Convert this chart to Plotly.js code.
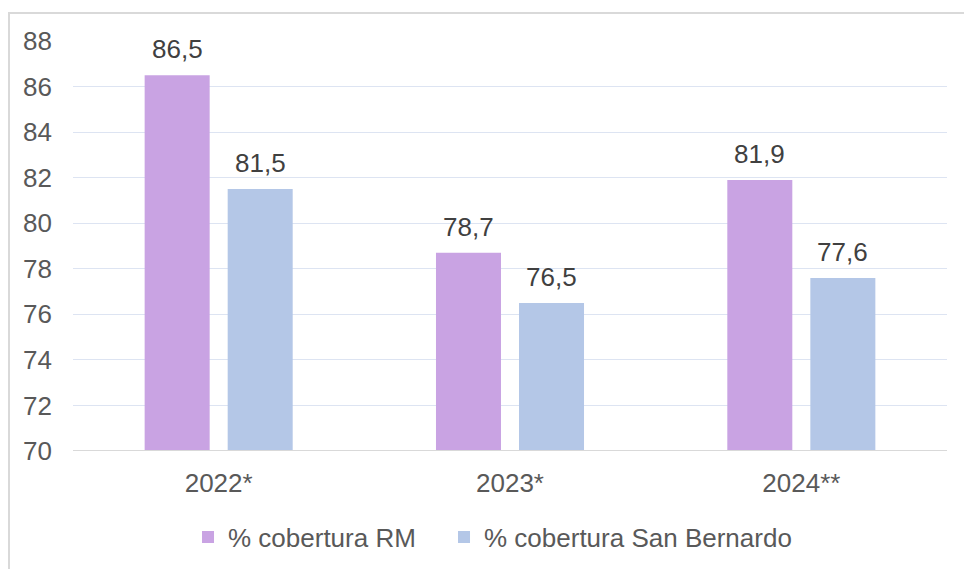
<!DOCTYPE html>
<html><head><meta charset="utf-8">
<script src="https://cdn.plot.ly/plotly-3.0.1.min.js"></script>
<style>html,body{margin:0;padding:0;background:#fff;overflow:hidden}#frame{position:absolute;left:8px;top:12px;width:1000px;height:600px;border-left:2px solid #D9D9D9;border-top:2px solid #D9D9D9;pointer-events:none}</style>
</head><body>
<div id="chart" style="width:964px;height:569px"></div>
<div id="frame"></div>
<script>
const categories = ["2022*", "2023*", "2024**"];
const seriesRM = [86.5, 78.7, 81.9];
const seriesSB = [81.5, 76.5, 77.6];
const nameRM = "% cobertura RM";
const nameSB = "% cobertura San Bernardo";
const yTicks = [70, 72, 74, 76, 78, 80, 82, 84, 86, 88];

const font = {family: "Liberation Sans, Arial, sans-serif", size: 26, color: "#595959"};
const labelFont = {family: font.family, size: 26, color: "#404040"};
const traces = [
  {type: "bar", name: nameRM, x: categories, y: seriesRM, marker: {color: "#C9A3E3"}, hoverinfo: "skip", legend: "legend"},
  {type: "bar", name: nameSB, x: categories, y: seriesSB, marker: {color: "#B4C7E7"}, hoverinfo: "skip", legend: "legend2"}
];
const fmt = v => v.toFixed(1).replace(".", ",");
const annotations = [];
[[seriesRM, -41.5], [seriesSB, 41.5]].forEach(([vals, dx]) => {
  vals.forEach((v, i) => annotations.push({
    x: categories[i], y: v, xref: "x", yref: "y", text: fmt(v), showarrow: false,
    xshift: dx, yshift: 26, yanchor: "middle", font: labelFont
  }));
});
const legendBase = {orientation: "h", xanchor: "left", y: -0.21, yanchor: "middle",
                    font: font, itemwidth: 30, bgcolor: "rgba(0,0,0,0)"};
const layout = {
  width: 964, height: 569,
  margin: {l: 73, r: 17, t: 41, b: 118, autoexpand: false},
  separators: ",.",
  font: font,
  paper_bgcolor: "#fff", plot_bgcolor: "#fff",
  barmode: "group", bargap: 0.43, bargroupgap: 0.217,
  showlegend: true,
  legend: Object.assign({}, legendBase, {x: 0.1316}),
  legend2: Object.assign({}, legendBase, {x: 0.4245}),
  xaxis: {type: "category", showgrid: false, ticks: "", showline: false, zeroline: false,
          tickfont: font, ticklabelstandoff: 14},
  yaxis: {range: [70, 88], tickvals: yTicks, ticktext: yTicks.map(String), showgrid: true,
          gridcolor: "#DDE4F2", gridwidth: 1, zeroline: false, showline: false, ticks: "",
          tickfont: font, ticklabelstandoff: 20, fixedrange: true},
  annotations: annotations,
  shapes: [{type: "line", xref: "paper", yref: "y", x0: 0, x1: 1, y0: 70, y1: 70,
            line: {color: "#D9D9D9", width: 2}}]
};
Plotly.newPlot("chart", traces, layout, {displayModeBar: false, staticPlot: true});
</script>
</body></html>
